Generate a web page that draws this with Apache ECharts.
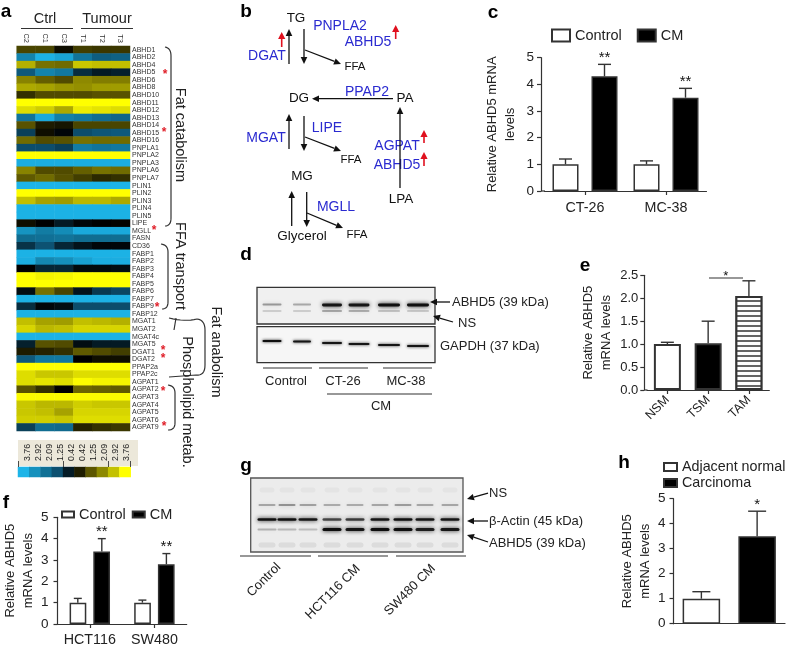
<!DOCTYPE html>
<html><head><meta charset="utf-8">
<style>html,body{margin:0;padding:0;background:#fff}#c{width:788px;height:647px}</style>
<script src="https://cdn.jsdelivr.net/npm/echarts@6/dist/echarts.min.js"></script>
</head><body><div id="c"></div>
<script>
var FONT='"Liberation Sans",Arial,sans-serif';
// ---- panel a data
var sampleLabels=['C2','C1','C3','T1','T2','T3'];
var geneLabels=['ABHD1','ABHD2','ABHD4','ABHD5','ABHD6','ABHD8','ABHD10','ABHD11','ABHD12','ABHD13','ABHD14','ABHD15','ABHD16','PNPLA1','PNPLA2','PNPLA3','PNPLA6','PNPLA7','PLIN1','PLIN2','PLIN3','PLIN4','PLIN5','LIPE','MGLL','FASN','CD36','FABP1','FABP2','FABP3','FABP4','FABP5','FABP6','FABP7','FABP9','FABP12','MGAT1','MGAT2','MGAT4c','MGAT5','DGAT1','DGAT2','PPAP2a','PPAP2c','AGPAT1','AGPAT2','AGPAT3','AGPAT4','AGPAT5','AGPAT6','AGPAT9'];
var expression=[
[1.0,1.0,0.2,0.9,0.8,0.8],[-2.6,-3.7,-3.4,-2.2,-1.6,-1.7],[2.7,1.7,1.6,3.0,2.9,2.9],[-1.5,-2.6,-2.3,-0.7,-0.4,-0.5],
[2.0,1.4,1.1,2.1,1.9,1.9],[2.6,2.5,2.3,2.2,2.4,2.4],[0.7,1.1,1.1,1.1,1.2,1.2],[3.76,3.76,3.76,3.76,3.76,3.76],
[3.3,3.1,2.6,3.5,3.4,3.3],[-2.2,-3.5,-2.5,-2.3,-2.0,-1.8],[1.2,0.4,0.3,1.0,1.0,1.0],[-1.0,0.2,-0.1,-1.2,-1.4,-1.5],
[1.6,1.1,1.2,1.7,1.6,1.6],[-1.2,-1.2,-1.0,-2.4,-2.2,-2.3],[3.76,3.76,3.76,3.76,3.76,3.76],[-3.6,-3.6,-3.6,-3.6,-3.6,-3.6],
[2.0,1.1,1.1,1.4,1.7,1.6],[1.3,1.6,1.2,0.9,0.6,0.7],[-3.76,-3.76,-3.76,-3.76,-3.76,-3.76],[3.76,3.76,3.76,3.76,3.76,3.76],
[2.9,2.5,2.4,2.8,2.8,2.6],[-3.7,-3.7,-3.7,-3.7,-3.7,-3.7],[-3.7,-3.7,-3.7,-3.7,-3.7,-3.7],[0.2,0,-0.4,-0.1,0,0.05],
[-3,-2.4,-2.8,-3.5,-3.5,-3.5],[-2,-2.1,-2.2,-2,-2,-2],[-0.8,-1.3,-0.6,-0.3,-0.1,-0.1],[-3.7,-3.7,-3.7,-3.7,-3.7,-3.7],
[-3.6,-2.7,-2.9,-3.3,-3.6,-3.6],[0,-0.6,-0.6,-0.15,-0.15,-0.2],[3.76,3.6,3.65,3.76,3.76,3.76],[3.76,3.76,3.76,3.76,3.76,3.76],
[-0.2,1.7,1.0,-0.3,-0.9,-1.1],[-3.7,-3.7,-3.7,-3.7,-3.7,-3.7],[-0.7,-0.1,-0.2,-1.2,-1.2,-1.2],[-3.7,-3.7,-3.7,-3.7,-3.7,-3.7],
[2.9,2.5,2.4,2.9,2.8,2.7],[3.2,2.8,2.9,3.2,3.2,3.2],[-3.7,-3.7,-3.7,-3.7,-3.7,-3.7],[-0.5,1.2,1.1,-0.2,-0.4,-0.4],
[0.4,0.5,0.7,1.3,1.1,0.9],[-1.5,-2.3,-2.3,0,0.2,0.2],[3.76,3.76,3.76,3.76,3.76,3.76],[3.3,3,3,3.3,3.3,3.3],
[3.3,3.4,3.3,3.7,3.6,3.6],[1.2,0.7,0,1.5,1.4,1.3],[3.7,3.7,3.7,3.7,3.7,3.7],[3.0,2.8,2.8,3.1,3,3],
[3.0,2.9,2.5,3.2,3.2,3.2],[3.1,3.1,3,3.3,3.3,3.3],[-1.0,-2.0,-1.9,0.5,0.7,0.8]];
var scaleValues=[-3.76,-2.92,-2.09,-1.25,-0.42,0.42,1.25,2.09,2.92,3.76];
var scaleLabels=['3.76','2.92','2.09','1.25','0.42','0.42','1.25','2.09','2.92','3.76'];
var scaleColors=['#1cb4e8','#1280a8','#0d5070','#000000','#5c5600','#a6a200','#ffff00'];
// ---- panel c
var cCats=['CT-26','MC-38'],cControl=[1,1],cControlTop=[1.2,1.13],cCM=[4.3,3.5],cCMTop=[4.75,3.85],cStars=['**','**'];
// ---- panel e
var eCats=['NSM','TSM','TAM'],eValues=[1.0,1.02,2.05],eTop=[1.04,1.5,2.38];
// ---- panel f
var fCats=['HCT116','SW480'],fControl=[1,1],fControlTop=[1.2,1.12],fCM=[3.4,2.8],fCMTop=[4.0,3.3],fStars=['**','**'];
// ---- panel h
var hCats=['Adjacent normal','Carcinoma'],hValues=[1,3.5],hTop=[1.28,4.5];
// ---- blots: lane darkness
var dAbhd5=[0.36,0.3,0.95,0.95,1,1],dNS=[0.2,0.2,0.4,0.36,0.26,0.22],dGapdh=[1,0.95,0.95,0.95,0.95,0.95];
var gUpper=[0.3,0.38,0.32,0.28,0.28,0.3,0.34,0.3,0.3],gActin=[1,1,0.95,0.7,0.75,0.95,1,0.95,0.95],gAbhd5=[0.25,0.22,0.2,1,0.95,1,1,0.9,0.95];

var cellData=[];
expression.forEach(function(r,y){r.forEach(function(v,x){cellData.push([x,y,v]);});});

var INK='#222',AXIS='#333';
function valueAxis(grid,min,max,interval,name,gap,margin,extra){
  return Object.assign({type:'value',gridIndex:grid,min:min,max:max,interval:interval,name:name,nameLocation:'middle',nameGap:gap,nameRotate:90,
    nameTextStyle:{fontFamily:FONT,fontSize:13,color:INK,lineHeight:18},
    axisLine:{show:true,lineStyle:{color:AXIS,width:1.2}},axisTick:{show:true,length:4,lineStyle:{color:AXIS,width:1.2}},
    axisLabel:{fontFamily:FONT,fontSize:13.5,color:INK,margin:margin},splitLine:{show:false},z:5},extra||{});
}
function catAxis(grid,data,extra){
  return Object.assign({type:'category',gridIndex:grid,data:data,axisLine:{show:true,lineStyle:{color:AXIS,width:1.2}},
    axisTick:{show:true,alignWithLabel:true,length:4,lineStyle:{color:AXIS,width:1.2}},
    axisLabel:{fontFamily:FONT,fontSize:14.3,color:INK,margin:10,interval:0},splitLine:{show:false},z:5},extra||{});
}
function barStyle(fill,bw){return {color:fill,borderColor:'#333',borderWidth:bw||1.5};}
function barSeries(name,ax,data,width,gap,fill,extra){
  return Object.assign({type:'bar',name:name,xAxisIndex:ax,yAxisIndex:ax,data:data,barWidth:width,barGap:gap,itemStyle:barStyle(fill),silent:true,z:3},extra||{});
}
function errSeries(ax,vals,tops,offset,cap,stars){
  return {type:'custom',xAxisIndex:ax,yAxisIndex:ax,silent:true,z:4,
    data:vals.map(function(v,i){return [i,v,tops[i]];}),encode:{x:0,y:[1,2]},
    renderItem:function(p,api){
      var b=api.coord([api.value(0),api.value(1)]),t=api.coord([api.value(0),api.value(2)]),x=b[0]+offset;
      var ls={stroke:'#333',lineWidth:1.4};
      var ch=[{type:'line',shape:{x1:x,y1:b[1],x2:x,y2:t[1]},style:ls},{type:'line',shape:{x1:x-cap,y1:t[1],x2:x+cap,y2:t[1]},style:ls}];
      var s=stars&&stars[p.dataIndex];
      if(s)ch.push({type:'text',style:{x:x,y:t[1]+1,text:s,align:'center',verticalAlign:'bottom',font:'15px '+FONT,fill:'#111'}});
      return {type:'group',children:ch};
    }};
}

// ---- graphic helpers
var g=[];
function T(x,y,s,size,color,o){o=o||{};
  g.push({type:'text',x:x,y:y,rotation:(o.rot||0)*Math.PI/180,z:20,silent:true,
    style:{x:0,y:0,text:s,align:o.align||'center',verticalAlign:'middle',font:(o.bold?'bold ':'')+size+'px '+FONT,fill:color||INK}});
}
function L(x1,y1,x2,y2,w,c){g.push({type:'line',z:20,silent:true,shape:{x1:x1,y1:y1,x2:x2,y2:y2},style:{stroke:c||'#333',lineWidth:w||1.2}});}
function R(x,y,w,h,fill,stroke,z){g.push({type:'rect',z:z==null?1:z,silent:true,shape:{x:x,y:y,width:w,height:h},style:{fill:fill,stroke:stroke||null,lineWidth:stroke?1.3:0}});}
function A(x1,y1,x2,y2,c,w,hl,hw){c=c||'#111';w=w||1.3;hl=hl||7;hw=hw||3.3;
  var a=Math.atan2(y2-y1,x2-x1),cs=Math.cos(a),sn=Math.sin(a),bx=x2-hl*cs,by=y2-hl*sn;
  L(x1,y1,bx,by,w,c);
  g.push({type:'polygon',z:21,silent:true,shape:{points:[[x2,y2],[bx-hw*sn,by+hw*cs],[bx+hw*sn,by-hw*cs]]},style:{fill:c}});
}
function Q(p0,c,p1){var r=[];for(var i=0;i<=8;i++){var t=i/8,u=1-t;r.push([u*u*p0[0]+2*u*t*c[0]+t*t*p1[0],u*u*p0[1]+2*u*t*c[1]+t*t*p1[1]]);}return r;}
function P(pts){g.push({type:'polyline',z:20,silent:true,shape:{points:pts},style:{stroke:'#333',lineWidth:1.2,fill:null}});}
function band(x,y,w,h,dark,blur){var c='rgba(15,15,15,'+dark+')';
  g.push({type:'rect',z:2,silent:true,shape:{x:x-w/2,y:y-h/2,width:w,height:h,r:h/2},style:{fill:c,shadowBlur:blur||4,shadowColor:c}});}

// panel letters
[['a',6,12],['b',246,12],['c',493,13],['d',246,255],['e',585,266],['f',6,503],['g',246,466],['h',624,463]].forEach(function(a){T(a[1],a[2],a[0],19,'#000',{bold:true});});

// panel a annotations
T(45,19,'Ctrl',14.5);T(107,19,'Tumour',14.5);L(21,28.5,73,28.5,1.2);L(81,28.5,133,28.5,1.2);
R(18,440,120,26,'#ece8da',null,0);
[[165,73],[164,131],[154,229],[157,306],[163,349],[163,357],[163,390],[164,425]].forEach(function(p){T(p[0],p[1]+2,'*',12,'#e0202a',{bold:true});});
P(Q([165,47],[171,48],[171,56]).concat(Q([171,218],[171,226],[165,226])));
P(Q([161,244],[168,245],[168,252]).concat(Q([168,302],[168,309],[162,309])));
P(Q([169,318],[185,322],[197,319]).concat(Q([197,319],[205,320],[205,330])).concat(Q([205,365],[205,376],[196,375])).concat([[169,377]]));
L(176,318,174,330,1.2);
P(Q([168,385],[175,386],[175,393]).concat(Q([175,423],[175,430],[168,430])));
T(180,135,'Fat catabolism',14.5,INK,{rot:-90});
T(180,266,'FFA transport',14.5,INK,{rot:-90});
T(187,402,'Phospholipid metab.',14.5,INK,{rot:-90});
T(216,352,'Fat anabolism',14.5,INK,{rot:-90});

// panel b
var BLUE='#2a2ad0',RED='#e0101e';
[['TG',296,18],['DG',299,98],['PA',405,98],['MG',302,176],['LPA',401,199],['Glycerol',302,236]].forEach(function(a){T(a[1],a[2],a[0],13.5,'#111');});
[['FFA',355,67],['FFA',351,160],['FFA',357,235]].forEach(function(a){T(a[1],a[2],a[0],11.5,'#111');});
[['PNPLA2',340,26],['ABHD5',368,42],['DGAT',267,56],['PPAP2',367,92],['LIPE',327,128],['MGAT',266,138],['AGPAT',397,146],['ABHD5',397,165],['MGLL',336,207]].forEach(function(a){T(a[1],a[2],a[0],14,BLUE);});
[[289,64,289,29],[304,29,304,64],[305,50,341,64],[393,98.7,312,98.7],[289,149,289,114],[304,116,304,151],[305,137,341,151],[400,188,400,107],[291.7,226,291.7,191],[306.7,192,306.7,227],[307,213,343,228]].forEach(function(a){A(a[0],a[1],a[2],a[3]);});
[[281.7,47,281.7,32],[395.7,39,395.7,25],[424,143,424,130],[424,166,424,152]].forEach(function(a){A(a[0],a[1],a[2],a[3],RED,1.6,7,3.6);});

// panel d blot
R(257,287.3,178,36.7,'#f0f0f0','#333',1);R(257,326.7,178,36,'#f6f6f6','#333',1);
var dX=[272,302,332,359,389,418],dW=[19,18,20,21,22,22],dY=[341,341.5,343,344,345,346];
dX.forEach(function(x,i){band(x,i<2?304.5:305,dW[i],i<2?1.8:2.8,dAbhd5[i]);band(x,311,dW[i],1.6,dNS[i]);band(x,dY[i],dW[i],2,dGapdh[i],3);});
A(450,302,430,302);A(453,322,433,316);
T(452,302,'ABHD5 (39 kDa)',13,INK,{align:'left'});T(458,323,'NS',13,INK,{align:'left'});T(440,346,'GAPDH (37 kDa)',13,INK,{align:'left'});
L(263,368,312,368);L(319,368,368,368);L(383,368,432,368);L(327,394,432,394);
T(286,381.5,'Control',13);T(343,381.5,'CT-26',13);T(406,381.5,'MC-38',13);T(381,406,'CM',13);

// panel g blot
R(250.7,478,212.3,74,'#ececec','#555',1);
var gX=[267,287,308,332,355,380,403,425,450];
gX.forEach(function(x,i){
  band(x,490,15,5,0.03,6);band(x,505,17,1.8,gUpper[i]);band(x,519.5,19,2.6,gActin[i]);
  band(x,529.5,19,i<3?2:3,gAbhd5[i]);band(x,545,17,5,0.07,6);});
A(488,493,467,499);A(488,521,467,521);A(488,542,467,535);
T(489,493,'NS',13,INK,{align:'left'});T(489,521,'β-Actin (45 kDa)',13,INK,{align:'left'});T(489,543,'ABHD5 (39 kDa)',13,INK,{align:'left'});
L(240,556,311,556);L(318,556,388,556);L(396,556,466,556);
T(264,580,'Control',13,INK,{rot:45});T(333,592,'HCT116 CM',13,INK,{rot:45});T(410,590,'SW480 CM',13,INK,{rot:45});

// small axis joins and significance bar
L(541,191,545,191);L(644.3,390,647.5,390);
L(709,278,743,278);T(725.7,276,'*',13,'#111');

var stripes={symbol:'rect',dashArrayX:[1,0],dashArrayY:[1.5,2.7],symbolSize:1,rotation:0,color:'#666',backgroundColor:'#fff'};
var option={
  animation:false,backgroundColor:'#fff',textStyle:{fontFamily:FONT},
  grid:[
    {left:16.7,width:113.3,top:46,height:385},
    {left:18,width:112.7,top:467,height:10},
    {left:22.5,width:109.5,top:466,height:1},
    {left:544.5,width:162,top:57.7,height:133.3},
    {left:647,width:122.3,top:275.3,height:114.7},
    {left:57.5,width:129.2,top:517.3,height:106.7},
    {left:673.5,width:111.5,top:498.7,height:125}
  ],
  xAxis:[
    {type:'category',gridIndex:0,position:'top',data:sampleLabels,axisLine:{show:false},axisTick:{show:false},axisLabel:{rotate:90,fontSize:7.5,color:'#333',margin:3,interval:0,fontFamily:FONT}},
    {type:'category',gridIndex:1,position:'top',data:scaleValues,axisLine:{show:false},axisTick:{show:true,length:6,lineStyle:{color:'#222',width:0.8}},axisLabel:{show:false},z:5},
    {type:'category',gridIndex:2,position:'top',data:scaleLabels,axisLine:{show:false},axisTick:{show:false},axisLabel:{rotate:90,fontSize:8.8,color:'#222',margin:5,interval:0,fontFamily:FONT},z:5},
    catAxis(3,cCats),
    catAxis(4,eCats,{axisLabel:{fontFamily:FONT,fontSize:12.5,color:INK,rotate:45,margin:8,interval:0}}),
    catAxis(5,fCats,{axisLabel:{fontFamily:FONT,fontSize:14.3,color:INK,margin:9,interval:0}}),
    catAxis(6,hCats,{axisTick:{show:false},axisLabel:{show:false}})
  ],
  yAxis:[
    {type:'category',gridIndex:0,inverse:true,position:'right',data:geneLabels,axisLine:{show:false},axisTick:{show:false},axisLabel:{fontSize:7,color:'#333',margin:2,interval:0,fontFamily:FONT}},
    {type:'category',gridIndex:1,data:['s'],show:false},
    {type:'value',gridIndex:2,show:false},
    valueAxis(3,0,5,1,'Relative ABHD5 mRNA\nlevels',22,7,{offset:3.5}),
    valueAxis(4,0,2.5,0.5,'Relative ABHD5\nmRNA levels',29,6,{offset:2.7,axisLabel:{fontFamily:FONT,fontSize:13,color:INK,margin:6,formatter:function(v){return v.toFixed(1);}}}),
    valueAxis(5,0,5,1,'Relative ABHD5\nmRNA levels',19,9),
    valueAxis(6,0,5,1,'Relative ABHD5\nmRNA levels',18,8)
  ],
  visualMap:[{type:'continuous',show:false,min:-3.76,max:3.76,seriesIndex:[0,1],inRange:{color:scaleColors}}],
  legend:[
    {data:['Control','CM'],icon:'rect',left:546,top:23,itemWidth:18,itemHeight:12,itemGap:15,selectedMode:false,textStyle:{fontFamily:FONT,fontSize:14.5,color:INK}},
    {data:['Control','CM'],icon:'rect',left:56,top:502,itemWidth:12,itemHeight:6,itemGap:6,selectedMode:false,textStyle:{fontFamily:FONT,fontSize:14.5,color:INK}},
    {data:['Adjacent normal','Carcinoma'],icon:'rect',orient:'vertical',left:658,top:455,itemWidth:13,itemHeight:8,itemGap:2,selectedMode:false,textStyle:{fontFamily:FONT,fontSize:14.3,color:INK}}
  ],
  graphic:{elements:g},
  series:[
    {type:'heatmap',xAxisIndex:0,yAxisIndex:0,data:cellData,silent:true,itemStyle:{borderWidth:0}},
    {type:'heatmap',xAxisIndex:1,yAxisIndex:1,data:scaleValues.map(function(v,i){return [i,0,v];}),silent:true,z:3},
    barSeries('Control',3,cControl,26,'50%','#fff'),
    barSeries('CM',3,cCM,26,'50%','#000'),
    errSeries(3,cControl,cControlTop,-19.5,6.5),
    errSeries(3,cCM,cCMTop,19.5,6.5,cStars),
    barSeries('NSM',4,eValues.map(function(v,i){return {value:v,itemStyle:i===1?barStyle('#000',2):i===2?Object.assign(barStyle('#fff',2),{decal:stripes}):barStyle('#fff',2)};}),27,'0%','#fff'),
    errSeries(4,eValues,eTop,0,6.5),
    barSeries('Control',5,fControl,16.7,'42%','#fff'),
    barSeries('CM',5,fCM,16.7,'42%','#000'),
    errSeries(5,fControl,fControlTop,-12,4),
    errSeries(5,fCM,fCMTop,12,4,fStars),
    barSeries('Adjacent normal',6,[hValues[0],null],37.5,'-100%','#fff'),
    barSeries('Carcinoma',6,[null,hValues[1]],37.5,'-100%','#000'),
    errSeries(6,hValues,hTop,0,9,['','*'])
  ]
};
var chart=echarts.init(document.getElementById('c'),null,{renderer:'canvas'});
chart.setOption(option);
</script></body></html>
